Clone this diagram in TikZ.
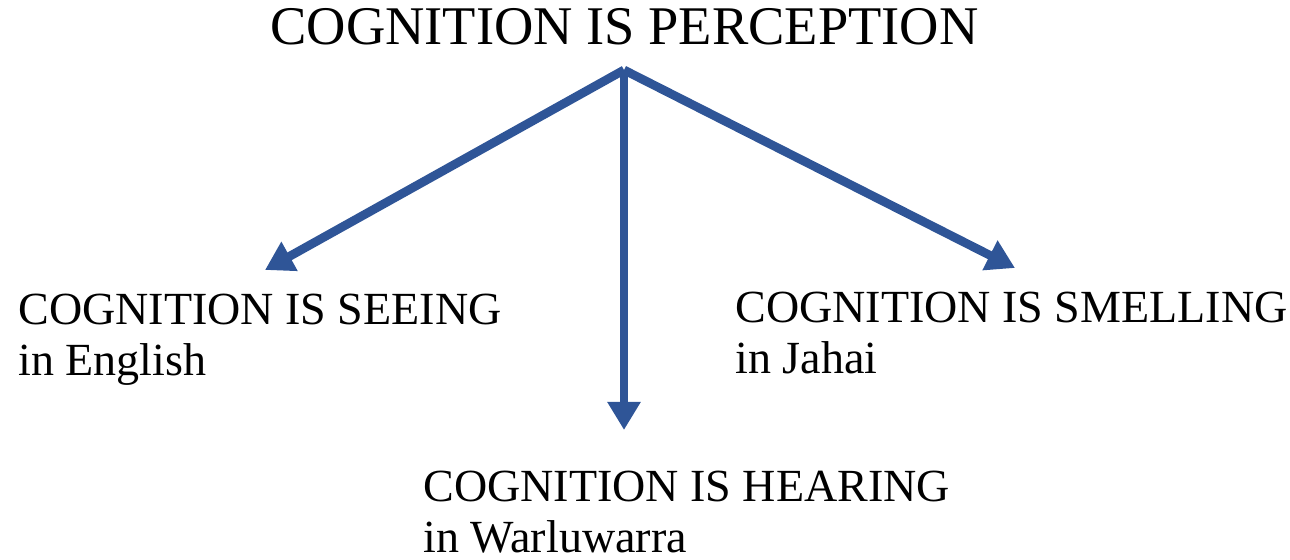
\documentclass[tikz,border=0pt]{standalone}
\usepackage{fontspec}
\setmainfont{Liberation Serif}
\usetikzlibrary{arrows.meta,positioning}
\definecolor{LinkBlue}{HTML}{2F5597}

\begin{document}
\begin{tikzpicture}[x=0.02cm, y=-0.02cm,
    concept/.style={inner sep=0pt, anchor=base west, align=left,
                    font=\fontsize{26.2}{28.5}\selectfont},
    link/.style={-{Triangle[length=16pt, width=18pt]}, LinkBlue, line width=5pt},
  ]
    \useasboundingbox (0,0) rectangle (1290,560);
    \node[concept, font=\fontsize{31}{33}\selectfont] (perception) at (270,45) {COGNITION IS PERCEPTION};
    \node[concept] (seeing)   at (18,375)  {COGNITION IS SEEING\\in English};
    \node[concept] (smelling) at (735,373) {COGNITION IS SMELLING\\in Jahai};
    \node[concept] (hearing)  at (423,552) {COGNITION IS HEARING\\in Warluwarra};
    \coordinate (hub) at (624,70);
    \coordinate (seeTip) at (265,270);
    \coordinate (smellTip) at (1015,268);
    \coordinate (hearTip) at (624,430);
    \draw[link] (hub) -- (seeTip);
    \draw[link] (hub) -- (smellTip);
    \draw[link] (hub) -- (hearTip);
\end{tikzpicture}
\end{document}
